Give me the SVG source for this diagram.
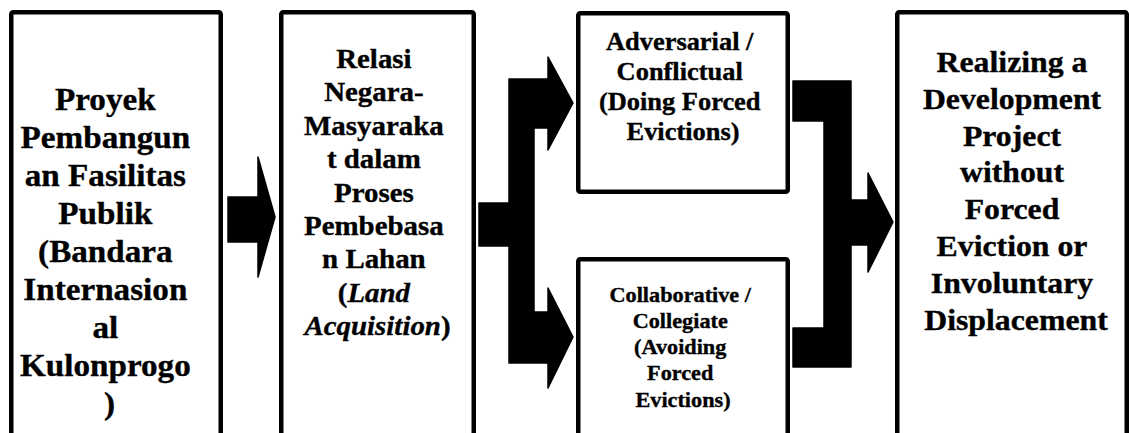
<svg xmlns="http://www.w3.org/2000/svg" width="1129" height="433" viewBox="0 0 1129 433">
<style>
.box{fill:#fff;stroke:#000;stroke-width:4.5}
.arrow{fill:#000;stroke:#000;stroke-width:1.5;stroke-linejoin:round}
.t{font-family:"Liberation Serif","Times New Roman",serif;font-weight:bold;fill:#000;stroke:#000;stroke-width:0.35;text-anchor:middle}
</style>
<rect width="1129" height="433" fill="#fff"/>
<g id="connectors">
<polygon class="arrow" points="228,197 258,197 258,157 275,217 258,277 258,242 228,242"/>
<polygon class="arrow" points="479,203 509,203 509,79 548,79 548,57 573,103 548,150 548,128 534,128 534,312 548,312 548,288 573,337 548,388 548,363 509,363 509,246 479,246"/>
<polygon class="arrow" points="793,81 851,81 851,200 868,200 868,173 893,222 868,272 868,245 851,245 851,367 793,367 793,328 824,328 824,121 793,121"/>
</g>
<g id="node1">
<rect class="box" x="11.25" y="12.25" width="209.5" height="440" rx="2"/>
<text class="t" font-size="31" transform="translate(109.5 0) scale(1.07 1)">
<tspan x="0" y="110">Proyek</tspan>
<tspan x="0" y="148">Pembangun</tspan>
<tspan x="0" y="186">an Fasilitas</tspan>
<tspan x="0" y="224">Publik</tspan>
<tspan x="0" y="262">(Bandara</tspan>
<tspan x="0" y="300">Internasion</tspan>
<tspan x="0" y="338">al</tspan>
<tspan x="0" y="376">Kulonprogo</tspan>
<tspan x="0" y="414">)</tspan>
</text>
</g>
<g id="node2">
<rect class="box" x="281.25" y="12.25" width="192.5" height="440" rx="2"/>
<text class="t" font-size="27" transform="translate(377.5 0) scale(1.07 1)">
<tspan x="0" y="68">Relasi</tspan>
<tspan x="0" y="101.4">Negara-</tspan>
<tspan x="0" y="134.8">Masyaraka</tspan>
<tspan x="0" y="168.2">t dalam</tspan>
<tspan x="0" y="201.6">Proses</tspan>
<tspan x="0" y="235">Pembebasa</tspan>
<tspan x="0" y="268.4">n Lahan</tspan>
<tspan x="0" y="301.8">(<tspan font-style="italic">Land</tspan></tspan>
<tspan x="0" y="335.2"><tspan font-style="italic">Acquisition</tspan>)</tspan>
</text>
</g>
<g id="node3">
<rect class="box" x="578.25" y="13.25" width="209.5" height="178.5" rx="2"/>
<text class="t" font-size="24.7" transform="translate(683 0) scale(1.07 1)">
<tspan x="0" y="50">Adversarial /</tspan>
<tspan x="0" y="80">Conflictual</tspan>
<tspan x="0" y="110">(Doing Forced</tspan>
<tspan x="0" y="140">Evictions)</tspan>
</text>
</g>
<g id="node4">
<rect class="box" x="578.25" y="259.25" width="209.5" height="200" rx="2"/>
<text class="t" font-size="20.8" transform="translate(683 0) scale(1.07 1)">
<tspan x="0" y="302">Collaborative /</tspan>
<tspan x="0" y="328">Collegiate</tspan>
<tspan x="0" y="354.5">(Avoiding</tspan>
<tspan x="0" y="380.5">Forced</tspan>
<tspan x="0" y="407">Evictions)</tspan>
</text>
</g>
<g id="node5">
<rect class="box" x="897.25" y="12.25" width="229.5" height="440" rx="2"/>
<text class="t" font-size="29.7" transform="translate(1016 0) scale(1.07 1)">
<tspan x="0" y="72">Realizing a</tspan>
<tspan x="0" y="109">Development</tspan>
<tspan x="0" y="146">Project</tspan>
<tspan x="0" y="182.5">without</tspan>
<tspan x="0" y="219">Forced</tspan>
<tspan x="0" y="256">Eviction or</tspan>
<tspan x="0" y="293">Involuntary</tspan>
<tspan x="0" y="330">Displacement</tspan>
</text>
</g>
</svg>
